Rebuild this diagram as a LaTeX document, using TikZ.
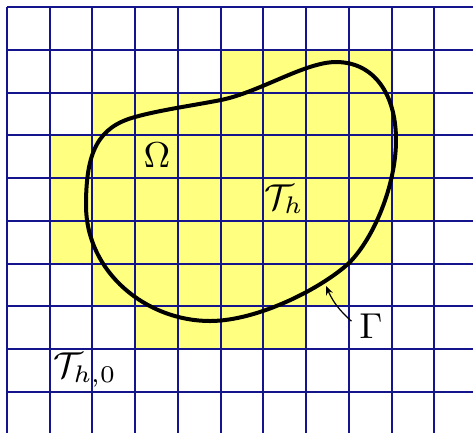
\documentclass[tikz,border=0pt]{standalone}
\usetikzlibrary{arrows.meta}
\definecolor{navyblue}{RGB}{20,20,140}
\definecolor{cellyellow}{RGB}{255,255,128}
\begin{document}
\begin{tikzpicture}[x=0.25pt,y=-0.25pt,
  gridline/.style={draw=navyblue, line width=0.5pt},
  cellfill/.style={fill=cellyellow},
  boundary/.style={draw=black, line width=1pt},
  lbl/.style={font=\fontsize{9}{11}\selectfont, inner sep=0pt},
  pointer/.style={draw=black, line width=0.3pt, -{Stealth[length=2.2pt,width=1.8pt]}}]
\useasboundingbox (0,0) rectangle (473,432);
\clip (0,0) rectangle (473,432);
\def\h{42.75}
% yellow cells, row / first column / last column + 1
\foreach \r/\a/\b in {1/5/9,2/2/10,3/1/10,4/1/10,5/1/9,6/2/8,7/3/7}
  \fill[cellfill] ({7+\a*\h},{7+\r*\h}) rectangle ({7+\b*\h},{7+(\r+1)*\h});
% grid
\foreach \i in {0,...,11} \draw[gridline] ({7+\i*\h},7) -- ({7+\i*\h},440);
\foreach \i in {0,...,10} \draw[gridline] (7,{7+\i*\h}) -- (480,{7+\i*\h});
% domain boundary
\draw[boundary] (336,62)
  .. controls (374,62) and (396,94) .. (396,140)
  .. controls (396,185) and (374,238) .. (349,263)
  .. controls (322,288) and (258,321) .. (210,321)
  .. controls (147,321) and (86,273) .. (86,205)
  .. controls (86,152) and (98,127) .. (135,117)
  .. controls (160,110) and (190,106) .. (221,100)
  .. controls (260,92) and (305,62) .. (336,62) -- cycle;
% labels
\node[lbl] (omega) at (157,155) {$\Omega$};
\node[lbl] (th) at (284,199) {$\mathcal{T}_h$};
\node[lbl] (th0) at (85,370) {$\mathcal{T}_{h,0}$};
\node[lbl] (gam) at (371,326) {$\Gamma$};
\coordinate (gpt) at (326,286);
\draw[pointer] ([xshift=-1.8pt,yshift=1.2pt]gam.west) to[bend left=12] (gpt);
\end{tikzpicture}
\end{document}
